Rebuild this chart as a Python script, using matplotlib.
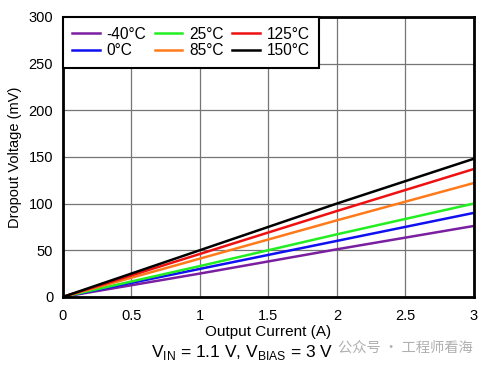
import matplotlib.pyplot as plt
import numpy as np

# Dropout voltage vs output current, per temperature
current = [0, 1, 2, 3]
temps = ['-40°C', '0°C', '25°C', '85°C', '125°C', '150°C']
dropout = {
    '-40°C': [0, 25, 51, 76],
    '0°C':   [0, 30, 60, 90],
    '25°C':  [0, 33, 67, 100],
    '85°C':  [0, 41, 82, 122],
    '125°C': [0, 46, 92, 137],
    '150°C': [0, 50, 100, 148],
}
colors = {
    '-40°C': '#7a1fa0',
    '0°C':   '#1010f0',
    '25°C':  '#22ee22',
    '85°C':  '#ff7a1a',
    '125°C': '#ee1111',
    '150°C': '#000000',
}

plt.rcParams['font.family'] = ['Liberation Sans', 'DejaVu Sans']

fig = plt.figure(figsize=(4.91, 3.67), dpi=100)
ax = fig.add_axes([0.128, 0.191, 0.837, 0.763])

for t in temps:
    ax.plot(current, dropout[t], color=colors[t], lw=1.8, label=t)

ax.set_xlim(0, 3)
ax.set_ylim(0, 300)
ax.set_xticks(np.arange(0, 3.01, 0.5))
ax.set_xticklabels(['0', '0.5', '1', '1.5', '2', '2.5', '3'])
ax.set_yticks(np.arange(0, 301, 50))
ax.grid(True, color='#757575', lw=0.9)
ax.tick_params(labelsize=10.5, length=0)
ax.tick_params(axis='x', pad=9)
ax.tick_params(axis='y', pad=7)
for s in ax.spines.values():
    s.set_linewidth(2)

ax.set_xlabel('Output Current (A)', fontsize=11, labelpad=1)
ax.set_ylabel('Dropout Voltage (mV)', fontsize=10.5, labelpad=5)
fig.text(0.493, 0.04, r'V$_{\mathregular{IN}}$ = 1.1 V, V$_{\mathregular{BIAS}}$ = 3 V',
         ha='center', va='center', fontsize=12.5)
fig.text(0.688, 0.054, '公众号 · 工程师看海', fontsize=10.3, color='#b0b0b0',
         va='center', family=['Noto Sans CJK SC', 'DejaVu Sans'])

leg = ax.legend(ncol=3, loc='upper left', bbox_to_anchor=(0, 1), borderaxespad=0,
                fancybox=False, framealpha=1, edgecolor='black', fontsize=11.2,
                handlelength=1.75, columnspacing=0.55, labelspacing=0.1,
                handletextpad=0.45, borderpad=0.62)
leg.get_frame().set_linewidth(1.5)

plt.savefig('out.png', dpi=100)
